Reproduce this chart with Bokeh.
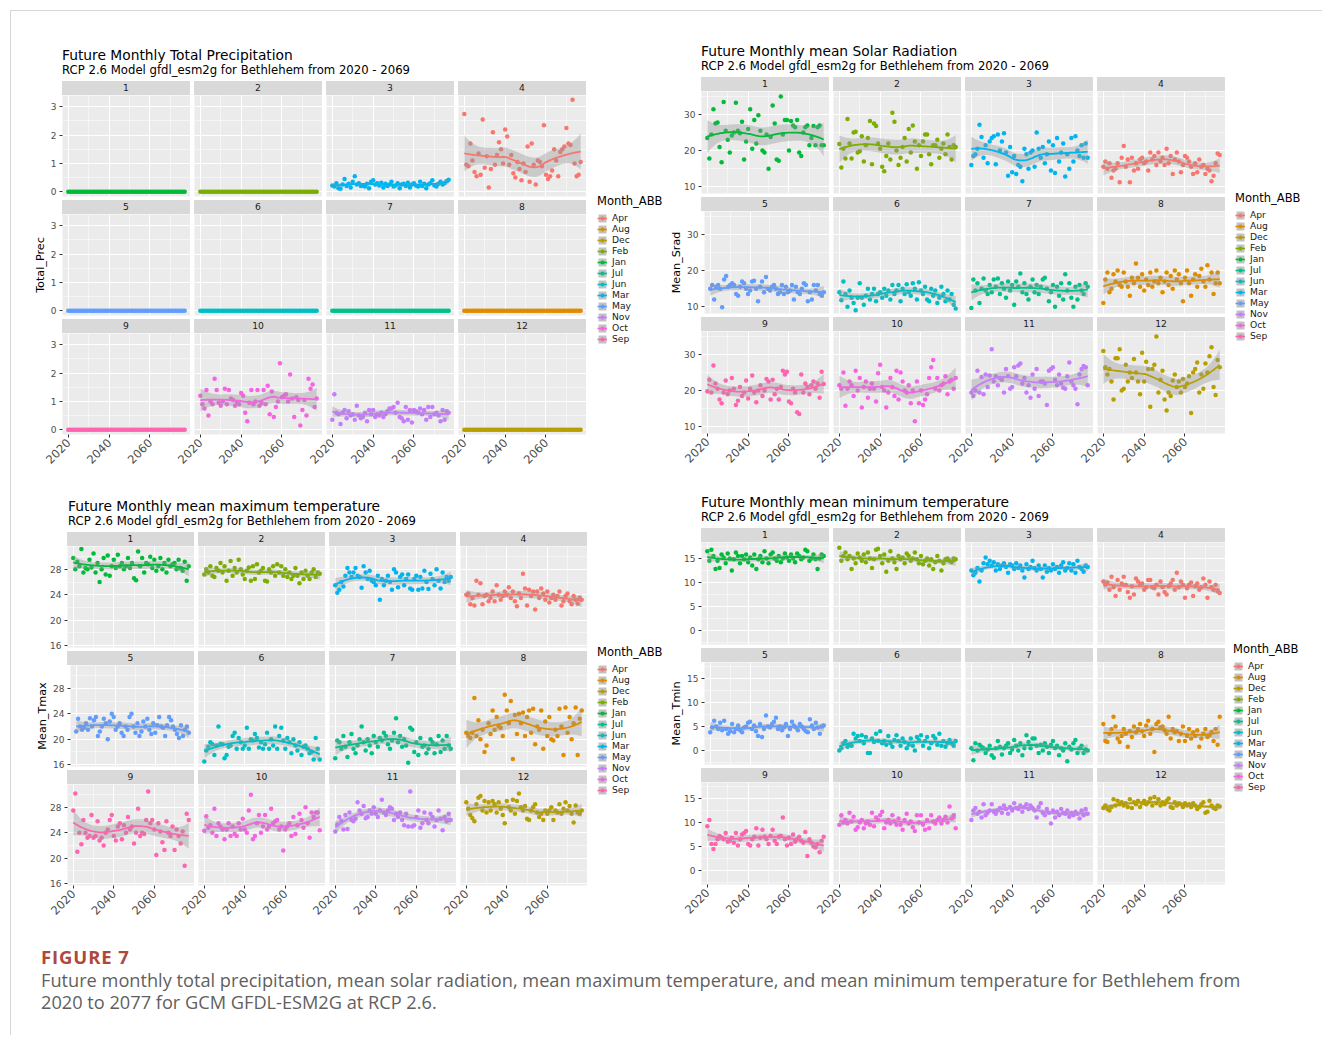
import math
import numpy as np
from bokeh.plotting import figure
from bokeh.layouts import row, column
from bokeh.models import Div, Range1d, FixedTicker, Legend, LegendItem, ColumnDataSource
from bokeh.embed import file_html
from bokeh.resources import INLINE

# ---------------------------------------------------------------- data
FIRST_YEAR = 2020
MONTH_ABB = ["Jan", "Feb", "Mar", "Apr", "May", "Jun", "Jul", "Aug", "Sep", "Oct", "Nov", "Dec"]
LEGEND_ORDER = ["Apr", "Aug", "Dec", "Feb", "Jan", "Jul", "Jun", "Mar", "May", "Nov", "Oct", "Sep"]
MONTH_COLOR = {"Apr": "#F8766D", "Aug": "#DE8C00", "Dec": "#B79F00", "Feb": "#7CAE00",
               "Jan": "#00BA38", "Jul": "#00C08B", "Jun": "#00BFC4", "Mar": "#00B4F0",
               "May": "#619CFF", "Nov": "#C77CFF", "Oct": "#F564E3", "Sep": "#FF64B0"}
X_TICKS = [2020, 2040, 2060]
X_MINOR = [2030, 2050, 2070]
SUBTITLE = "RCP 2.6 Model gfdl_esm2g for Bethlehem from 2020 - 2069"
CAPTION_LABEL = "FIGURE 7"
CAPTION_LINE1 = ("Future monthly total precipitation, mean solar radiation, mean maximum temperature, "
                 "and mean minimum temperature for Bethlehem from")
CAPTION_LINE2 = "2020 to 2077 for GCM GFDL-ESM2G at RCP 2.6."

# ---- Total precipitation (one value per year 2020..2077)
PREC_01 = [0, 0, 0, 0, 0, 0, 0, 0, 0, 0,
           0, 0, 0, 0, 0, 0, 0, 0, 0, 0,
           0, 0, 0, 0, 0, 0, 0, 0, 0, 0,
           0, 0, 0, 0, 0, 0, 0, 0, 0, 0,
           0, 0, 0, 0, 0, 0, 0, 0, 0, 0,
           0, 0, 0, 0, 0, 0, 0, 0]
PREC_02 = [0, 0, 0, 0, 0, 0, 0, 0, 0, 0,
           0, 0, 0, 0, 0, 0, 0, 0, 0, 0,
           0, 0, 0, 0, 0, 0, 0, 0, 0, 0,
           0, 0, 0, 0, 0, 0, 0, 0, 0, 0,
           0, 0, 0, 0, 0, 0, 0, 0, 0, 0,
           0, 0, 0, 0, 0, 0, 0, 0]
PREC_03 = [0.22, 0.18, 0.30, 0.12, 0.10, 0.25, 0.45, 0.20, 0.28, 0.15,
           0.35, 0.55, 0.25, 0.30, 0.20, 0.22, 0.18, 0.28, 0.12, 0.35,
           0.40, 0.25, 0.30, 0.22, 0.32, 0.15, 0.28, 0.20, 0.25, 0.35,
           0.18, 0.22, 0.30, 0.12, 0.25, 0.28, 0.20, 0.32, 0.15, 0.25,
           0.30, 0.22, 0.18, 0.35, 0.20, 0.28, 0.12, 0.25, 0.30, 0.40,
           0.22, 0.18, 0.28, 0.35, 0.25, 0.30, 0.38, 0.42]
PREC_04 = [2.75, 0.95, 0.90, 1.70, 1.10, 0.70, 0.55, 1.35, 0.60, 2.55,
           0.85, 1.25, 0.15, 0.80, 2.10, 0.95, 1.30, 1.75, 1.50, 1.00,
           2.20, 1.95, 0.95, 1.30, 0.65, 0.50, 1.05, 0.80, 0.40, 1.00,
           0.70, 1.60, 0.35, 1.70, 0.95, 0.25, 1.10, 1.05, 0.90, 2.35,
           0.60, 0.45, 0.55, 0.75, 1.50, 1.10, 0.55, 1.40, 1.50, 1.60,
           2.25, 1.70, 1.65, 3.25, 1.00, 0.55, 0.60, 1.05]
PREC_05 = [0, 0, 0, 0, 0, 0, 0, 0, 0, 0,
           0, 0, 0, 0, 0, 0, 0, 0, 0, 0,
           0, 0, 0, 0, 0, 0, 0, 0, 0, 0,
           0, 0, 0, 0, 0, 0, 0, 0, 0, 0,
           0, 0, 0, 0, 0, 0, 0, 0, 0, 0,
           0, 0, 0, 0, 0, 0, 0, 0]
PREC_06 = [0, 0, 0, 0, 0, 0, 0, 0, 0, 0,
           0, 0, 0, 0, 0, 0, 0, 0, 0, 0,
           0, 0, 0, 0, 0, 0, 0, 0, 0, 0,
           0, 0, 0, 0, 0, 0, 0, 0, 0, 0,
           0, 0, 0, 0, 0, 0, 0, 0, 0, 0,
           0, 0, 0, 0, 0, 0, 0, 0]
PREC_07 = [0, 0, 0, 0, 0, 0, 0, 0, 0, 0,
           0, 0, 0, 0, 0, 0, 0, 0, 0, 0,
           0, 0, 0, 0, 0, 0, 0, 0, 0, 0,
           0, 0, 0, 0, 0, 0, 0, 0, 0, 0,
           0, 0, 0, 0, 0, 0, 0, 0, 0, 0,
           0, 0, 0, 0, 0, 0, 0, 0]
PREC_08 = [0, 0, 0, 0, 0, 0, 0, 0, 0, 0,
           0, 0, 0, 0, 0, 0, 0, 0, 0, 0,
           0, 0, 0, 0, 0, 0, 0, 0, 0, 0,
           0, 0, 0, 0, 0, 0, 0, 0, 0, 0,
           0, 0, 0, 0, 0, 0, 0, 0, 0, 0,
           0, 0, 0, 0, 0, 0, 0, 0]
PREC_09 = [0, 0, 0, 0, 0, 0, 0, 0, 0, 0,
           0, 0, 0, 0, 0, 0, 0, 0, 0, 0,
           0, 0, 0, 0, 0, 0, 0, 0, 0, 0,
           0, 0, 0, 0, 0, 0, 0, 0, 0, 0,
           0, 0, 0, 0, 0, 0, 0, 0, 0, 0,
           0, 0, 0, 0, 0, 0, 0, 0]
PREC_10 = [1.20, 0.90, 0.75, 1.40, 0.50, 1.00, 0.90, 1.80, 1.40, 0.95,
           0.85, 1.00, 1.45, 0.90, 1.40, 1.10, 1.05, 0.85, 0.95, 0.90,
           1.30, 1.20, 0.60, 0.30, 0.95, 1.40, 0.90, 1.00, 1.40, 0.85,
           0.95, 1.40, 0.90, 1.55, 0.55, 1.35, 0.45, 0.80, 1.00, 2.35,
           1.15, 1.20, 1.25, 1.00, 1.95, 1.10, 0.45, 1.15, 1.05, 0.15,
           0.70, 1.05, 0.50, 1.80, 1.45, 1.60, 0.80, 1.10]
PREC_11 = [0.35, 1.25, 0.60, 0.55, 0.20, 0.60, 0.70, 0.40, 0.65, 0.50,
           0.55, 0.35, 0.85, 0.50, 0.40, 0.45, 0.60, 0.30, 0.70, 0.55,
           0.70, 0.45, 0.55, 0.50, 0.60, 0.45, 0.55, 0.65, 0.75, 0.75,
           0.80, 0.60, 0.95, 0.45, 0.40, 0.30, 0.80, 0.35, 0.70, 0.25,
           0.70, 0.65, 0.60, 0.75, 0.55, 0.70, 0.35, 0.80, 0.45, 0.80,
           0.55, 0.60, 0.50, 0.30, 0.70, 0.35, 0.65, 0.60]
PREC_12 = [0, 0, 0, 0, 0, 0, 0, 0, 0, 0,
           0, 0, 0, 0, 0, 0, 0, 0, 0, 0,
           0, 0, 0, 0, 0, 0, 0, 0, 0, 0,
           0, 0, 0, 0, 0, 0, 0, 0, 0, 0,
           0, 0, 0, 0, 0, 0, 0, 0, 0, 0,
           0, 0, 0, 0, 0, 0, 0, 0]

# ---- Mean solar radiation
SRAD_01 = [23.5, 17.8, 24.5, 31.5, 27.5, 27.8, 21.0, 16.8, 33.5, 25.5,
           23.0, 19.5, 24.2, 25.0, 33.3, 25.5, 24.8, 28.0, 17.5, 22.5,
           26.0, 31.5, 20.5, 28.5, 22.0, 29.8, 25.5, 20.0, 19.5, 24.5,
           15.0, 23.8, 32.5, 27.5, 17.5, 17.2, 35.0, 24.5, 28.5, 28.5,
           20.0, 28.2, 27.0, 26.5, 28.5, 19.5, 18.5, 25.0, 26.5, 27.0,
           21.5, 23.5, 26.8, 21.5, 26.5, 27.0, 21.5, 21.5]
SRAD_02 = [21.8, 15.3, 20.5, 17.8, 28.8, 22.0, 17.8, 25.0, 25.2, 19.5,
           19.8, 24.0, 17.0, 21.5, 23.5, 28.2, 16.2, 27.5, 26.8, 22.0,
           20.5, 15.5, 14.3, 18.5, 22.0, 17.5, 30.5, 28.0, 20.0, 16.0,
           18.0, 21.0, 23.5, 17.0, 26.0, 19.5, 27.0, 22.5, 15.0, 21.5,
           18.5, 22.5, 24.5, 24.5, 19.0, 16.2, 21.5, 21.5, 23.0, 18.0,
           20.5, 22.0, 19.0, 24.5, 21.0, 17.5, 21.5, 21.0]
SRAD_03 = [16.0, 18.5, 19.0, 20.5, 27.2, 23.8, 18.0, 21.5, 16.5, 22.5,
           23.5, 24.0, 16.2, 24.5, 20.0, 22.5, 24.8, 19.5, 13.0, 21.0,
           14.0, 18.5, 13.5, 16.0, 15.5, 11.5, 20.5, 19.0, 15.0, 19.5,
           20.0, 15.5, 25.0, 20.5, 18.0, 21.0, 16.5, 19.0, 22.5, 14.5,
           21.5, 13.8, 23.5, 17.0, 19.5, 22.0, 12.8, 19.0, 15.0, 23.5,
           17.0, 24.0, 20.0, 18.5, 21.5, 18.0, 22.0, 18.0]
SRAD_04 = [15.5, 17.0, 15.0, 16.5, 12.5, 14.5, 15.0, 16.5, 11.2, 18.0,
           21.3, 15.5, 17.5, 11.2, 18.0, 14.5, 16.5, 15.0, 17.5, 18.0,
           16.5, 17.0, 14.5, 19.5, 17.5, 18.5, 16.0, 19.5, 17.0, 18.0,
           16.0, 20.5, 16.5, 18.5, 13.5, 17.5, 19.5, 17.0, 14.0, 16.0,
           18.5, 18.0, 17.0, 15.5, 13.5, 16.5, 14.0, 17.5, 15.5, 16.0,
           13.5, 15.0, 14.5, 11.5, 13.0, 16.5, 19.2, 18.8]
SRAD_05 = [15.0, 16.0, 12.0, 15.5, 16.0, 15.0, 9.8, 17.5, 18.5, 15.5,
           16.0, 16.5, 16.0, 13.5, 13.0, 15.5, 17.0, 16.5, 15.0, 13.5,
           14.5, 17.0, 17.2, 15.0, 11.5, 15.5, 17.0, 14.0, 18.2, 15.0,
           14.5, 15.5, 16.0, 15.0, 13.5, 14.0, 16.0, 13.5, 15.5, 14.0,
           14.5, 16.0, 12.0, 15.5, 14.0, 13.5, 15.0, 16.5, 16.0, 11.5,
           14.0, 12.0, 16.0, 14.5, 16.0, 13.5, 13.0, 14.0]
SRAD_06 = [14.0, 11.8, 17.0, 13.5, 10.0, 14.5, 12.5, 11.0, 9.0, 12.5,
           16.5, 12.5, 10.5, 13.0, 15.0, 12.0, 13.5, 15.0, 11.5, 13.5,
           14.0, 12.5, 15.0, 13.0, 14.5, 12.0, 16.0, 13.5, 14.5, 16.0,
           11.5, 15.0, 13.5, 16.2, 14.0, 13.0, 16.5, 15.0, 12.0, 16.8,
           14.5, 13.5, 15.5, 12.0, 11.5, 15.0, 13.0, 14.5, 11.0, 12.5,
           15.5, 13.5, 11.5, 14.5, 12.0, 13.5, 10.5, 9.5]
SRAD_07 = [9.6, 17.5, 14.5, 16.5, 11.0, 15.0, 17.8, 14.5, 13.5, 16.0,
           14.0, 17.5, 15.5, 17.8, 13.5, 16.5, 15.0, 12.5, 17.0, 14.5,
           16.0, 10.5, 17.0, 15.5, 19.2, 14.0, 16.5, 13.5, 12.0, 15.5,
           17.5, 14.0, 16.0, 13.5, 15.5, 17.5, 18.0, 15.0, 11.5, 14.0,
           16.0, 10.0, 15.5, 13.0, 16.5, 12.0, 19.0, 14.5, 16.5, 12.5,
           10.0, 15.5, 12.0, 16.0, 14.5, 13.5, 16.5, 15.5]
SRAD_08 = [11.0, 17.5, 19.5, 14.0, 15.0, 19.0, 17.0, 20.0, 16.0, 15.5,
           19.5, 17.0, 15.5, 13.0, 18.0, 16.5, 22.0, 18.0, 15.5, 19.0,
           14.5, 17.5, 16.0, 19.5, 15.5, 17.0, 20.0, 16.5, 18.0, 14.0,
           17.0, 19.5, 16.0, 18.5, 15.0, 20.0, 17.5, 19.0, 16.5, 11.5,
           18.0, 20.0, 16.5, 13.0, 17.5, 19.0, 15.5, 18.5, 20.5, 17.0,
           15.5, 21.5, 17.5, 19.5, 13.5, 16.5, 19.5, 16.5]
SRAD_09 = [19.8, 23.0, 19.5, 27.0, 22.0, 20.5, 17.5, 16.5, 19.5, 22.8,
           19.0, 20.0, 23.5, 20.5, 16.0, 17.2, 21.0, 18.5, 19.5, 22.8,
           17.8, 20.5, 24.2, 19.5, 16.8, 20.0, 21.5, 18.5, 20.0, 23.2,
           22.5, 17.5, 23.0, 19.0, 20.5, 17.5, 21.0, 25.5, 24.5, 25.2,
           17.0, 16.5, 20.5, 19.5, 14.0, 13.5, 24.5, 19.5, 22.0, 21.0,
           19.0, 21.5, 22.5, 20.5, 22.0, 18.0, 25.2, 21.8]
SRAD_10 = [21.5, 20.5, 25.0, 15.8, 20.5, 22.5, 21.5, 18.5, 25.5, 20.0,
           23.5, 15.3, 21.0, 22.5, 18.0, 20.5, 22.0, 20.5, 17.0, 24.8,
           27.2, 21.0, 20.0, 15.3, 19.5, 23.5, 21.0, 18.5, 25.5, 17.5,
           25.0, 22.5, 20.0, 19.5, 21.5, 16.5, 20.0, 11.5, 22.5, 16.5,
           20.0, 16.0, 17.5, 19.0, 23.5, 26.5, 28.5, 20.5, 23.5, 20.0,
           21.5, 22.0, 24.0, 19.0, 22.5, 23.0, 20.5, 23.5]
SRAD_11 = [19.5, 18.5, 20.0, 25.5, 19.5, 23.8, 19.0, 24.5, 21.0, 24.2,
           31.5, 22.5, 24.0, 21.5, 23.5, 23.0, 19.5, 26.0, 24.0, 20.5,
           21.0, 26.5, 24.0, 27.0, 27.5, 22.0, 23.5, 19.5, 21.5, 18.0,
           24.5, 20.5, 26.0, 18.5, 22.5, 22.5, 22.0, 16.0, 25.5, 26.0,
           26.5, 23.0, 21.5, 24.5, 22.0, 20.8, 20.5, 24.0, 27.8, 22.5,
           21.5, 20.5, 16.2, 24.5, 26.0, 26.8, 26.5, 21.5]
SRAD_12 = [31.0, 26.5, 24.5, 26.0, 22.5, 17.5, 29.0, 29.0, 31.5, 20.0,
           20.5, 27.2, 22.5, 25.0, 23.5, 28.8, 25.0, 22.5, 19.0, 30.5,
           22.5, 28.0, 26.0, 15.5, 26.0, 27.2, 35.0, 19.5, 23.0, 25.5,
           17.5, 14.5, 19.5, 18.5, 22.8, 24.5, 21.0, 22.5, 19.5, 23.2,
           21.0, 22.0, 24.0, 13.8, 25.0, 26.0, 27.8, 19.5, 24.5, 20.5,
           27.5, 25.0, 29.5, 32.0, 21.0, 18.8, 28.5, 26.5]

# ---- Mean maximum temperature
TMAX_01 = [29.8, 28.0, 29.2, 28.5, 31.2, 27.5, 28.2, 28.0, 29.5, 28.3,
           30.5, 27.5, 29.0, 26.0, 28.0, 29.8, 27.2, 30.2, 27.0, 28.5,
           29.5, 28.2, 30.3, 28.5, 29.0, 28.0, 28.5, 29.8, 28.2, 29.0,
           26.6, 26.3, 30.8, 28.5, 29.8, 27.5, 29.0, 28.8, 30.0, 28.2,
           29.5, 27.8, 28.5, 29.8, 28.0, 29.0, 27.5, 29.5, 28.5, 28.8,
           29.0, 28.0, 29.5, 28.2, 27.8, 29.2, 26.2, 28.5]
TMAX_02 = [27.2, 28.0, 27.5, 28.5, 27.0, 26.8, 28.2, 27.8, 29.0, 27.5,
           28.5, 26.2, 27.8, 29.3, 27.0, 28.2, 27.5, 29.5, 28.0, 27.2,
           26.5, 27.8, 28.3, 26.2, 28.5, 26.5, 28.8, 27.5, 27.8, 28.2,
           26.2, 26.1, 28.0, 27.5, 28.5, 27.0, 28.8, 27.5, 28.5, 27.0,
           28.0, 26.8, 27.5, 26.5, 27.0, 28.2, 27.0, 25.8, 27.5, 26.5,
           27.8, 27.0, 26.5, 27.5, 28.0, 26.8, 27.5, 27.3]
TMAX_03 = [25.5, 24.3, 24.8, 26.0, 25.3, 27.0, 28.2, 27.5, 26.8, 27.5,
           28.2, 27.0, 26.8, 25.1, 28.5, 27.5, 26.5, 27.8, 26.2, 26.0,
           25.5, 27.0, 23.2, 26.5, 25.5, 26.2, 27.0, 26.0, 24.8, 28.0,
           27.5, 25.2, 26.8, 27.2, 25.5, 26.5, 27.2, 25.0, 24.8, 26.5,
           27.0, 24.8, 26.8, 25.0, 27.8, 26.0, 24.9, 27.3, 26.5, 25.5,
           28.0, 26.2, 25.0, 27.5, 26.0, 26.8, 26.2, 26.8]
TMAX_04 = [24.0, 24.2, 22.5, 23.5, 22.3, 26.2, 24.0, 25.8, 22.5, 23.8,
           24.0, 23.0, 23.5, 24.5, 23.0, 25.5, 24.0, 23.2, 23.8, 24.5,
           24.0, 25.2, 23.5, 24.5, 23.0, 22.2, 24.2, 23.5, 27.3, 25.0,
           22.3, 24.8, 23.8, 24.5, 21.7, 24.5, 23.5, 25.0, 24.2, 23.2,
           24.5, 22.8, 23.5, 24.0, 23.2, 23.8, 24.5, 22.3, 23.0, 23.8,
           24.2, 23.0, 22.5, 23.8, 23.2, 22.6, 23.5, 23.2]
TMAX_05 = [21.2, 23.2, 22.0, 21.5, 21.8, 22.5, 21.5, 23.3, 22.0, 23.0,
           23.5, 20.5, 21.2, 22.0, 23.2, 22.5, 20.0, 22.8, 24.0, 23.5,
           21.5, 22.0, 22.5, 21.0, 20.5, 22.0, 21.5, 23.5, 24.0, 22.0,
           21.0, 22.5, 20.5, 21.2, 22.8, 22.0, 23.2, 21.5, 20.8, 22.5,
           21.0, 22.2, 23.5, 22.0, 21.8, 20.5, 22.2, 23.5, 23.0, 22.0,
           21.5, 20.8, 20.2, 22.2, 20.5, 21.5, 22.0, 21.0]
TMAX_06 = [16.5, 18.2, 18.8, 19.5, 19.2, 17.5, 19.0, 22.0, 19.3, 19.2,
           17.0, 17.5, 18.8, 19.0, 20.5, 21.0, 18.5, 20.2, 19.5, 18.5,
           19.0, 21.8, 18.5, 20.0, 19.8, 20.8, 20.2, 18.7, 19.5, 18.5,
           19.2, 21.0, 18.5, 20.0, 19.0, 22.0, 18.5, 20.5, 21.8, 19.8,
           18.5, 20.2, 19.5, 17.8, 20.0, 19.0, 18.2, 19.5, 17.5, 18.8,
           19.0, 18.5, 17.8, 18.0, 16.8, 20.2, 18.5, 16.8]
TMAX_07 = [17.0, 19.8, 19.5, 18.5, 20.5, 18.8, 17.2, 19.5, 20.8, 18.5,
           17.8, 19.0, 20.0, 22.0, 19.5, 18.2, 20.0, 19.0, 17.8, 20.5,
           19.5, 18.8, 20.2, 19.8, 21.0, 20.5, 19.2, 18.5, 19.8, 21.0,
           23.3, 19.5, 20.5, 18.8, 20.0, 19.0, 16.3, 21.8, 21.5, 18.0,
           19.5, 17.5, 20.2, 18.8, 19.0, 17.8, 18.5, 20.0, 19.5, 17.8,
           19.2, 20.5, 18.0, 19.8, 18.5, 20.5, 19.0, 18.5]
TMAX_08 = [21.0, 20.5, 20.2, 21.0, 26.5, 20.5, 23.0, 20.0, 21.5, 18.0,
           19.0, 22.5, 20.8, 24.5, 21.5, 23.5, 22.0, 21.8, 20.5, 27.0,
           24.5, 22.5, 26.0, 16.9, 23.8, 20.8, 24.0, 22.5, 24.2, 20.5,
           23.5, 24.5, 21.0, 24.8, 19.2, 22.0, 21.5, 24.5, 18.5, 22.8,
           20.5, 23.5, 20.0, 19.8, 21.5, 20.5, 24.8, 22.0, 17.5, 25.0,
           21.0, 23.5, 20.0, 22.5, 25.0, 17.5, 23.2, 24.5]
TMAX_09 = [27.5, 30.2, 21.0, 24.0, 22.2, 26.0, 24.0, 23.2, 23.5, 26.8,
           23.2, 23.5, 25.8, 22.8, 23.2, 22.0, 24.0, 24.5, 26.0, 26.8,
           23.5, 22.8, 25.0, 25.5, 23.0, 25.2, 24.0, 26.5, 24.5, 25.0,
           22.3, 24.0, 27.8, 23.5, 24.0, 23.8, 26.0, 30.5, 25.5, 26.0,
           24.5, 20.5, 25.5, 24.2, 22.5, 21.3, 25.8, 24.0, 23.5, 25.0,
           21.3, 24.5, 23.5, 22.3, 24.2, 18.8, 27.0, 26.0]
TMAX_10 = [24.3, 26.6, 24.8, 25.2, 24.0, 27.8, 23.5, 25.5, 25.0, 24.5,
           23.0, 24.5, 25.5, 23.5, 25.0, 23.8, 23.5, 25.5, 24.5, 26.2,
           24.5, 24.0, 27.5, 30.0, 23.0, 23.5, 25.5, 26.8, 24.0, 25.0,
           26.8, 24.5, 25.0, 27.8, 25.5, 25.8, 26.0, 24.5, 25.0, 21.2,
           24.5, 25.0, 25.5, 23.5, 26.5, 23.8, 25.2, 27.0, 26.0, 24.8,
           28.0, 25.5, 23.2, 27.2, 26.5, 27.2, 27.2, 24.4]
TMAX_11 = [24.2, 25.3, 26.5, 25.8, 24.5, 26.8, 24.6, 27.2, 26.0, 25.8,
           26.2, 28.8, 27.5, 27.0, 28.2, 26.3, 26.5, 27.5, 27.0, 28.0,
           27.0, 26.5, 27.5, 29.2, 27.2, 26.8, 27.5, 28.0, 27.8, 26.0,
           27.0, 26.5, 27.2, 26.0, 25.2, 27.0, 25.0, 30.5, 25.0, 25.2,
           26.5, 27.5, 24.8, 25.5, 27.2, 26.0, 25.5, 27.0, 26.5, 25.0,
           26.0, 27.5, 26.2, 24.4, 26.5, 25.8, 27.0, 26.0]
TMAX_12 = [28.8, 27.8, 26.8, 26.3, 25.8, 28.5, 29.5, 29.8, 27.5, 29.0,
           27.2, 28.8, 27.5, 29.0, 28.5, 27.2, 28.8, 27.8, 26.8, 25.5,
           29.0, 28.0, 27.5, 29.2, 27.0, 29.0, 30.2, 28.0, 27.5, 28.2,
           26.2, 26.0, 27.5, 28.0, 28.5, 27.2, 26.5, 27.0, 26.0, 27.5,
           27.0, 27.5, 28.0, 26.0, 27.5, 27.2, 28.5, 27.0, 27.8, 28.8,
           27.5, 28.2, 27.0, 25.6, 28.3, 27.2, 27.0, 27.5]

# ---- Mean minimum temperature
TMIN_01 = [16.5, 14.5, 16.8, 15.5, 12.8, 14.5, 13.0, 15.8, 15.2, 14.0,
           16.0, 15.0, 12.5, 14.8, 16.2, 15.5, 14.0, 15.5, 14.8, 15.8,
           14.2, 15.2, 13.5, 15.8, 12.8, 14.8, 15.5, 14.2, 16.5, 15.0,
           14.0, 15.8, 16.2, 15.0, 14.5, 15.5, 14.2, 15.0, 16.0, 15.2,
           14.5, 15.8, 15.0, 14.2, 16.0, 15.5, 14.8, 15.2, 16.8, 16.5,
           14.5, 15.0, 15.8, 14.8, 12.8, 15.0, 15.8, 15.5]
TMIN_02 = [17.2, 14.5, 15.5, 16.2, 14.8, 15.5, 12.8, 15.0, 14.0, 16.0,
           15.2, 14.5, 15.8, 14.2, 16.2, 15.0, 13.0, 14.8, 16.8, 17.0,
           15.5, 14.0, 15.8, 12.2, 14.5, 16.5, 15.0, 14.2, 12.8, 15.5,
           14.8, 15.2, 14.0, 16.0, 15.5, 14.5, 15.0, 16.2, 14.8, 14.0,
           15.5, 13.8, 14.5, 15.0, 13.5, 14.8, 12.8, 14.2, 15.5, 14.5,
           12.5, 14.0, 14.8, 15.0, 14.5, 14.2, 15.0, 14.8]
TMIN_03 = [12.5, 11.5, 12.0, 13.0, 10.2, 12.5, 14.0, 15.2, 13.8, 14.5,
           13.5, 14.2, 12.5, 13.8, 12.8, 13.5, 14.0, 13.2, 12.0, 13.8,
           13.5, 12.8, 14.0, 13.0, 13.5, 12.5, 11.0, 13.8, 12.8, 13.2,
           14.5, 13.0, 12.5, 13.5, 12.8, 11.0, 13.5, 12.2, 13.0, 12.5,
           13.8, 12.8, 13.2, 12.0, 13.5, 14.2, 12.5, 13.0, 14.0, 12.5,
           13.8, 12.0, 14.5, 13.2, 12.8, 12.2, 13.5, 13.2]
TMIN_04 = [10.2, 9.5, 10.0, 8.5, 11.2, 9.0, 7.2, 10.5, 8.5, 9.8,
           11.2, 9.5, 8.0, 6.8, 9.2, 7.5, 10.8, 10.2, 9.5, 9.8,
           8.5, 9.0, 10.5, 10.5, 9.0, 8.8, 9.5, 7.5, 10.2, 9.0,
           8.0, 7.5, 9.2, 9.8, 10.5, 8.5, 12.0, 9.0, 10.2, 9.5,
           6.8, 8.8, 9.5, 10.0, 7.2, 9.2, 9.8, 8.5, 9.0, 10.8,
           9.5, 6.8, 10.2, 9.0, 8.5, 9.5, 8.2, 7.8]
TMIN_05 = [3.8, 4.8, 6.2, 5.0, 4.5, 5.8, 4.2, 6.2, 4.5, 3.5,
           4.0, 5.5, 3.8, 4.5, 5.2, 4.2, 3.8, 4.8, 5.0, 5.8,
           6.0, 4.5, 5.2, 4.0, 3.0, 5.5, 2.8, 4.5, 7.3, 5.0,
           4.8, 5.5, 6.0, 6.8, 4.5, 5.0, 4.2, 4.8, 5.5, 3.0,
           4.5, 6.0, 5.2, 4.8, 4.2, 5.5, 5.0, 4.5, 4.0, 3.8,
           6.5, 5.2, 4.5, 5.8, 4.8, 3.5, 5.0, 5.2]
TMIN_06 = [0.0, 0.5, 1.5, 2.0, 0.8, 1.2, 1.0, 3.5, 2.5, 3.0,
           2.0, 3.2, 1.5, 2.8, -0.5, -0.5, 2.5, 1.8, 3.5, 2.0,
           4.0, 1.5, 2.0, 1.2, 3.0, 1.5, 0.8, 2.2, 3.2, 2.0,
           1.0, 2.5, 1.8, 0.5, 1.2, 2.5, 1.0, 0.0, 2.8, 2.2,
           3.2, 1.0, 2.0, 2.8, 0.5, 1.5, 3.0, 2.5, 1.2, 3.5,
           1.0, 2.0, 0.8, 1.5, 2.2, 1.5, 1.0, 2.0]
TMIN_07 = [0.5, -2.0, 1.5, 0.0, 1.2, 0.8, 0.5, -0.5, 0.2, 1.0,
           -1.0, -1.5, 0.5, 2.0, 0.8, -0.8, 0.5, 1.0, 1.5, -0.5,
           0.2, 2.2, 1.0, 0.0, 1.5, -1.0, 0.5, 3.2, 1.8, 0.5,
           2.5, 2.5, 1.0, -0.5, 1.2, 0.0, 1.5, 0.8, -0.5, 1.2,
           2.0, 0.5, 1.0, -1.0, 0.5, 0.0, 1.5, -2.2, 0.8, 0.2,
           1.5, 2.2, -0.5, 0.5, 1.0, -0.5, 0.2, 0.0]
TMIN_08 = [5.5, 2.0, 1.8, 3.5, 4.5, 7.0, 5.0, 2.5, 1.8, 3.0,
           4.5, 3.5, 0.8, 4.0, 2.8, 5.0, 3.8, 4.5, 5.5, 4.0,
           3.0, 5.2, 6.2, 3.5, 4.5, -0.3, 5.5, 6.0, 4.8, 5.0,
           4.2, 3.5, 7.0, 2.5, 4.5, 3.8, 4.0, 2.0, 3.5, 5.0,
           2.0, 3.0, 4.5, 2.5, 3.8, 3.0, 4.2, 0.8, 2.5, 3.5,
           4.5, 2.8, 3.2, 3.8, 2.0, 4.5, 1.2, 7.0]
TMIN_09 = [9.2, 10.5, 5.5, 4.5, 5.5, 6.5, 7.2, 6.8, 6.5, 7.8,
           6.0, 6.2, 6.8, 5.8, 7.8, 5.2, 6.5, 7.5, 7.8, 8.2,
           5.5, 5.2, 6.5, 7.0, 8.8, 5.2, 6.8, 8.5, 7.0, 6.5,
           5.5, 7.2, 8.5, 6.2, 5.5, 7.0, 7.2, 11.0, 6.5, 5.2,
           6.8, 5.5, 7.5, 6.0, 6.5, 7.0, 6.2, 5.8, 8.0, 3.0,
           6.5, 5.8, 5.0, 4.8, 5.5, 3.8, 6.2, 7.0]
TMIN_10 = [9.5, 11.5, 10.0, 10.5, 9.8, 12.0, 10.2, 11.2, 8.5, 9.0,
           10.0, 10.5, 8.8, 9.8, 10.2, 9.5, 12.0, 9.2, 11.0, 10.5,
           11.5, 12.2, 8.8, 10.0, 10.5, 9.8, 11.5, 10.2, 9.5, 10.8,
           9.5, 8.5, 10.5, 11.8, 9.8, 10.2, 9.0, 8.2, 11.5, 10.0,
           11.5, 9.5, 8.5, 10.5, 8.8, 11.5, 10.2, 9.8, 10.5, 11.0,
           9.8, 10.5, 11.2, 10.0, 13.3, 10.8, 11.5, 8.8]
TMIN_11 = [10.5, 12.5, 13.0, 11.8, 12.2, 11.0, 13.8, 11.5, 12.0, 12.5,
           13.8, 12.2, 11.8, 12.5, 13.0, 12.0, 13.5, 12.8, 11.8, 13.2,
           12.5, 14.0, 13.0, 12.8, 13.5, 12.2, 13.2, 13.8, 12.8, 13.5,
           13.0, 12.5, 11.0, 13.2, 14.0, 12.0, 11.5, 12.8, 12.0, 9.8,
           12.5, 11.0, 12.2, 11.5, 12.8, 12.0, 11.8, 12.5, 11.2, 12.0,
           11.5, 12.2, 11.8, 10.8, 12.5, 11.5, 12.8, 11.8]
TMIN_12 = [13.0, 13.5, 12.8, 12.5, 13.2, 14.8, 13.5, 14.5, 13.8, 14.2,
           13.5, 14.0, 13.2, 14.8, 13.0, 14.2, 13.8, 14.5, 13.2, 14.0,
           14.5, 13.8, 14.2, 15.0, 13.5, 15.3, 14.0, 14.8, 13.5, 14.2,
           13.8, 14.5, 15.0, 13.2, 13.0, 14.2, 13.5, 14.0, 13.8, 13.2,
           14.0, 13.5, 13.8, 13.2, 14.0, 13.5, 12.8, 13.2, 13.8, 14.2,
           12.0, 12.2, 14.5, 13.5, 13.0, 12.8, 13.5, 13.3]

PANELS = [
    dict(title="Future Monthly Total Precipitation", ylabel="Total_Prec",
         series=[PREC_01, PREC_02, PREC_03, PREC_04, PREC_05, PREC_06,
                 PREC_07, PREC_08, PREC_09, PREC_10, PREC_11, PREC_12],
         yticks=[0, 1, 2, 3], yminor=[0.5, 1.5, 2.5]),
    dict(title="Future Monthly mean Solar Radiation", ylabel="Mean_Srad",
         series=[SRAD_01, SRAD_02, SRAD_03, SRAD_04, SRAD_05, SRAD_06,
                 SRAD_07, SRAD_08, SRAD_09, SRAD_10, SRAD_11, SRAD_12],
         yticks=[10, 20, 30], yminor=[15, 25, 35]),
    dict(title="Future Monthly mean maximum temperature", ylabel="Mean_Tmax",
         series=[TMAX_01, TMAX_02, TMAX_03, TMAX_04, TMAX_05, TMAX_06,
                 TMAX_07, TMAX_08, TMAX_09, TMAX_10, TMAX_11, TMAX_12],
         yticks=[16, 20, 24, 28], yminor=[18, 22, 26, 30]),
    dict(title="Future Monthly mean minimum temperature", ylabel="Mean_Tmin",
         series=[TMIN_01, TMIN_02, TMIN_03, TMIN_04, TMIN_05, TMIN_06,
                 TMIN_07, TMIN_08, TMIN_09, TMIN_10, TMIN_11, TMIN_12],
         yticks=[0, 5, 10, 15], yminor=[-2.5, 2.5, 7.5, 12.5, 17.5]),
]

# ---------------------------------------------------------------- layout / style
FONT = "DejaVu Sans"
STRIP = 14
GAP = 4
XOVER = 24
TW, TH = 560, 31
LEGW, LEGH = 72, 150
X_RANGE = (2017.15, 2079.85)

GEOM = [
    dict(ox=11, title_top=48, title_left=62, grid_top=81, frame_left=62, fw=128, fh=101,
         L=34, B=40, leg_left=597, leg_top=194, yrange=(-0.17, 3.40)),
    dict(ox=666, title_top=44, title_left=701, grid_top=77, frame_left=701, fw=128, fh=102,
         L=34, B=40, leg_left=1235, leg_top=191, yrange=(8.1, 36.4)),
    dict(ox=11, title_top=499, title_left=68, grid_top=532, frame_left=67, fw=127, fh=101,
         L=34, B=40, leg_left=597, leg_top=645, yrange=(15.7, 31.6)),
    dict(ox=666, title_top=495, title_left=701, grid_top=528, frame_left=701, fw=128, fh=102,
         L=34, B=40, leg_left=1233, leg_top=642, yrange=(-2.9, 18.3)),
]


def loess(x, y, xs, span=0.75):
    x = np.asarray(x, float)
    y = np.asarray(y, float)
    n = len(x)
    q = int(math.floor(n * span))

    def wrow(x0):
        d = np.abs(x - x0)
        h = max(np.sort(d)[q - 1], 1e-9)
        u = np.clip(d / h, 0, 1)
        w = (1 - u ** 3) ** 3
        X = np.column_stack([np.ones(n), x - x0, (x - x0) ** 2])
        XtW = X.T * w
        return np.linalg.solve(XtW @ X, XtW)[0]

    Ld = np.array([wrow(v) for v in x])
    res = y - Ld @ y
    M = np.eye(n) - Ld
    d1 = np.trace(M.T @ M)
    sigma = math.sqrt(float(np.sum(res ** 2)) / d1)
    Ls = np.array([wrow(v) for v in xs])
    fit = Ls @ y
    se = sigma * np.sqrt(np.sum(Ls ** 2, axis=1))
    return fit, fit - 2.01 * se, fit + 2.01 * se


def facet_fig(vals, color, P, G, r, c):
    fw, fh, L, B = G["fw"], G["fh"], G["L"], G["B"]
    left, bottom = c == 0, r == 2
    lb = L if left else (XOVER if bottom else 0)
    bb = B if bottom else GAP
    p = figure(width=fw + lb, height=fh + bb,
               x_range=Range1d(*X_RANGE), y_range=Range1d(*G["yrange"]),
               x_axis_location="below" if bottom else None,
               y_axis_location="left" if left else None,
               output_backend="svg", toolbar_location=None, tools="",
               min_border_left=lb, min_border_right=0, min_border_top=0, min_border_bottom=bb,
               background_fill_color="#EBEBEB", border_fill_color=None,
               outline_line_color=None, margin=0)
    xt = FixedTicker(ticks=X_TICKS, minor_ticks=X_MINOR)
    yt = FixedTicker(ticks=P["yticks"], minor_ticks=P["yminor"])
    for g in p.xgrid:
        g.ticker = xt
    for g in p.ygrid:
        g.ticker = yt
    for g in list(p.xgrid) + list(p.ygrid):
        g.grid_line_color = "white"
        g.grid_line_width = 1.1
        g.minor_grid_line_color = "white"
        g.minor_grid_line_width = 0.5
    axes = []
    if bottom:
        ax = p.xaxis[0]
        ax.ticker = xt
        ax.major_label_orientation = math.pi / 4
        ax.major_label_text_font_size = "11.5px"
        axes.append(ax)
    if left:
        ay = p.yaxis[0]
        ay.ticker = yt
        ay.major_label_text_font_size = "9px"
        if r == 1:
            ay.axis_label = P["ylabel"]
            ay.axis_label_text_font = FONT
            ay.axis_label_text_font_size = "11.2px"
            ay.axis_label_text_font_style = "normal"
            ay.axis_label_text_color = "#000000"
            ay.axis_label_standoff = 1
        axes.append(ay)
    for ax in axes:
        ax.axis_line_color = None
        ax.major_tick_line_color = "#333333"
        ax.major_tick_out = 3
        ax.major_tick_in = 0
        ax.minor_tick_line_color = None
        ax.major_label_text_font = FONT
        ax.major_label_text_color = "#4D4D4D"
        ax.major_label_standoff = 2

    years = list(range(FIRST_YEAR, FIRST_YEAR + len(vals)))
    xs = np.linspace(years[0], years[-1], 80)
    fit, lo, hi = loess(years, vals, xs)
    p.scatter(x=years, y=vals, size=4.5, fill_color=color, line_color=None)
    p.varea(x=xs, y1=lo, y2=hi, fill_color="#999999", fill_alpha=0.4)
    p.line(x=xs, y=fit, line_color=color, line_width=1.8)
    return p


def legend_fig(ml, mt):
    lp = figure(width=LEGW, height=LEGH, x_range=Range1d(0, 1), y_range=Range1d(0, 1),
                x_axis_location=None, y_axis_location=None, output_backend="svg",
                toolbar_location=None, tools="", min_border=0,
                background_fill_color=None, border_fill_color=None,
                outline_line_color=None, margin=(mt, 0, 0, ml))
    for g in list(lp.xgrid) + list(lp.ygrid):
        g.visible = False
    items = []
    for m in LEGEND_ORDER:
        col = MONTH_COLOR[m]
        # a single NaN row: nothing is drawn in the plot area, but the legend key renders
        src = ColumnDataSource(dict(x=[float("nan")], y=[float("nan")]))
        r1 = lp.rect(x="x", y="y", width=1, height=1, source=src,
                     fill_color="#C2C2C2", line_color=None)
        r2 = lp.line(x="x", y="y", source=src, line_color=col, line_width=1.6)
        r3 = lp.scatter(x="x", y="y", source=src, size=4, fill_color=col, line_color=None)
        items.append(LegendItem(label=m, renderers=[r1, r2, r3]))
    leg = Legend(items=items, title="Month_ABB", location="top_left", orientation="vertical",
                 margin=0, padding=0, spacing=0, glyph_width=10, glyph_height=10,
                 label_height=10, label_standoff=5,
                 label_text_font=FONT, label_text_font_size="9.2px", label_text_color="#1A1A1A",
                 label_text_baseline="middle",
                 title_text_font=FONT, title_text_font_size="11.5px",
                 title_text_font_style="normal", title_text_color="#000000", title_standoff=4,
                 border_line_color=None, background_fill_alpha=0)
    lp.add_layout(leg)
    return lp


def block(P, G, oy):
    ox = G["ox"]
    fw, fh, L, B = G["fw"], G["fh"], G["L"], G["B"]
    title_html = (
        f'<div style="font-family:{FONT};font-size:13.8px;line-height:15px;color:#000;white-space:nowrap">{P["title"]}</div>'
        f'<div style="font-family:{FONT};font-size:11.7px;line-height:15px;color:#000;white-space:nowrap">{SUBTITLE}</div>')
    title_div = Div(text=title_html, width=TW, height=TH,
                    margin=(G["title_top"] - oy, 0, 0, G["title_left"] - ox),
                    styles={"font-family": FONT, "font-size": "11.5px", "line-height": "15px"})
    rows = []
    for r in range(3):
        cols = []
        for c in range(4):
            m = r * 4 + c
            color = MONTH_COLOR[MONTH_ABB[m]]
            fig = facet_fig(P["series"][m], color, P, G, r, c)
            left, bottom = c == 0, r == 2
            strip_ml = L if left else (XOVER if bottom else 0)
            strip = Div(text=f'<span style="font-family:{FONT};font-size:9.2px;line-height:{STRIP}px;color:#1A1A1A">{m + 1}</span>',
                        width=fw, height=STRIP, margin=(0, 0, 0, strip_ml),
                        styles={"background-color": "#D9D9D9", "text-align": "center",
                                "font-size": "9.2px", "line-height": f"{STRIP}px",
                                "font-family": FONT, "color": "#1A1A1A"})
            col_ml = 0 if left else (GAP - XOVER if bottom else GAP)
            cols.append(column(strip, fig, margin=(0, 0, 0, col_ml)))
        rows.append(row(*cols, margin=0))
    grid = column(*rows, margin=0)
    grid_w = L + 4 * fw + 3 * GAP
    grid_h = 3 * (STRIP + fh) + 2 * GAP + B
    leg_ml = G["leg_left"] - (G["frame_left"] + 4 * fw + 3 * GAP)
    leg_mt = G["leg_top"] - G["grid_top"]
    lf = legend_fig(leg_ml, leg_mt)
    gr_mt = G["grid_top"] - (G["title_top"] + TH)
    gr_ml = G["frame_left"] - L - ox
    gridrow = row(grid, lf, margin=(gr_mt, 0, 0, gr_ml))
    blk = column(title_div, gridrow)
    w = max(G["title_left"] - ox + TW, gr_ml + grid_w + leg_ml + LEGW)
    h = max(G["grid_top"] - oy + grid_h, G["leg_top"] - oy + LEGH)
    return blk, w, h


TOP = 11
b1, w1, h1 = block(PANELS[0], GEOM[0], TOP)
b2, w2, h2 = block(PANELS[1], GEOM[1], TOP)
b2.margin = (0, 0, 0, (GEOM[1]["ox"] - GEOM[0]["ox"]) - w1)
row1_h = max(h1, h2)
y2 = TOP + row1_h
b3, w3, h3 = block(PANELS[2], GEOM[2], y2)
b4, w4, h4 = block(PANELS[3], GEOM[3], y2)
b4.margin = (0, 0, 0, (GEOM[3]["ox"] - GEOM[2]["ox"]) - w3)
row2_h = max(h3, h4)
cap_top = 946

caption_html = (
    f'<div style="font-family:Open Sans;font-size:18.5px;line-height:22px;font-weight:bold;color:#B0473D;letter-spacing:0.9px">{CAPTION_LABEL}</div>'
    f'<div style="font-family:Open Sans;font-size:18.2px;line-height:22px;color:#5F5F5F;margin-top:1px;white-space:nowrap">{CAPTION_LINE1}<br>{CAPTION_LINE2}</div>')
caption = Div(text=caption_html, width=1260, height=68,
              margin=(cap_top - (TOP + row1_h + row2_h), 0, 0, 41 - 11),
              styles={"font-family": "Open Sans", "font-size": "18px", "line-height": "22px"})

content = column(row(b1, b2), row(b3, b4), caption)
topline = Div(text="", width=1312, height=1, margin=(10, 0, 0, 10),
              styles={"background-color": "#D6D6D6"})
leftline = Div(text="", width=1, height=1024, margin=(0, 0, 0, 10),
               styles={"background-color": "#D6D6D6"})
root = column(topline, row(leftline, content))

open("out.html", "w").write(file_html(root, INLINE, "Figure 7"))
